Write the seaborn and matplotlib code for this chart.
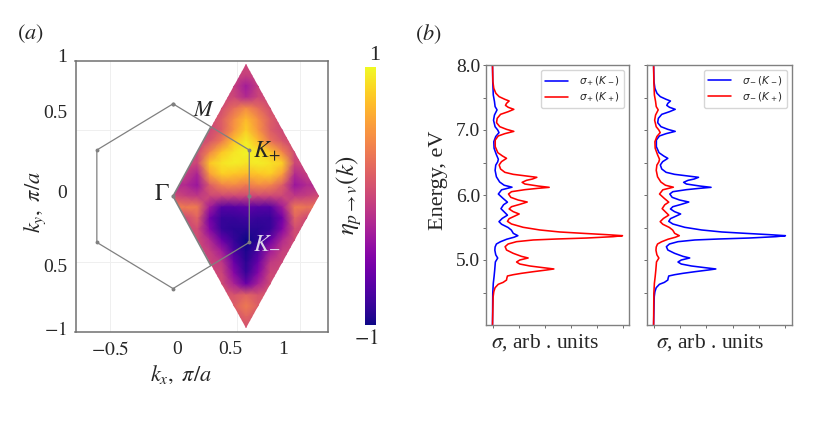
import numpy as np
import matplotlib
matplotlib.use("Agg")
import matplotlib.pyplot as plt
from matplotlib.patches import Polygon
import seaborn as sns

# eta on a grid over the rhombus, read by eye from the colours
# 13 columns over kx = 0 .. 1.15, 25 rows over ky = 1 .. -1
eta = [
    [0, 0, 0, 0, 0, 0, 0, 0, 0, 0, 0, 0, 0],
    [0, 0, 0, 0, 0, -0.03, -0.05, -0.03, 0, 0, 0, 0, 0],
    [0, 0, 0, 0, 0, -0.05, -0.3, -0.05, 0, 0, 0, 0, 0],
    [0, 0, 0, 0, 0, 0, -0.2, 0, 0, 0, 0, 0, 0],
    [0, 0, 0, 0, 0.05, 0.25, 0.45, 0.25, 0.05, 0, 0, 0, 0],
    [0, 0, 0, 0, 0.15, 0.45, 0.7, 0.45, 0.15, 0, 0, 0, 0],
    [0, 0, 0, 0, 0.15, 0.5, 0.8, 0.5, 0.15, 0, 0, 0, 0],
    [0, 0, 0, 0.1, 0.35, 0.75, 0.95, 0.7, 0.3, 0.1, 0, 0, 0],
    [0, 0, 0, 0.4, 0.75, 0.9, 0.97, 0.9, 0.75, 0.4, 0, 0, 0],
    [0, 0, 0, 0.75, 0.9, 0.95, 0.9, 0.95, 0.9, 0.8, 0, 0, 0],
    [-0.05, -0.05, -0.25, 0.55, 0.8, 0.75, 0.7, 0.75, 0.8, 0.55, -0.2, -0.05, -0.05],
    [-0.2, -0.2, -0.35, 0.15, 0.4, 0.45, 0.35, 0.45, 0.4, 0.15, -0.35, -0.2, -0.2],
    [0.05, -0.05, -0.1, 0, 0, 0, 0, 0, 0, 0, -0.1, -0.05, 0.05],
    [0.35, 0.35, 0.35, -0.3, -0.7, -0.7, -0.65, -0.7, -0.7, -0.3, 0.35, 0.3, 0.3],
    [0, 0, 0.2, -0.55, -0.85, -0.85, -0.8, -0.85, -0.85, -0.55, 0.2, 0, 0],
    [0, 0, 0.05, -0.45, -0.85, -0.9, -0.9, -0.9, -0.85, -0.45, 0.05, 0, 0],
    [0, 0, 0.05, -0.2, -0.6, -0.85, -1, -0.9, -0.6, -0.2, 0.05, 0, 0],
    [0, 0, 0, -0.05, -0.3, -0.75, -0.95, -0.75, -0.3, -0.05, 0, 0, 0],
    [0, 0, 0, 0, -0.1, -0.6, -0.9, -0.6, -0.1, 0, 0, 0, 0],
    [0, 0, 0, 0, 0, -0.45, -0.85, -0.45, 0, 0, 0, 0, 0],
    [0, 0, 0, 0, 0.05, -0.25, -0.6, -0.25, 0.05, 0, 0, 0, 0],
    [0, 0, 0, 0, 0.1, 0.1, 0.2, 0.1, 0.1, 0, 0, 0, 0],
    [0, 0, 0, 0, 0.15, 0.15, 0.35, 0.15, 0.15, 0, 0, 0, 0],
    [0, 0, 0, 0, 0.05, 0.05, 0.2, 0.05, 0.05, 0, 0, 0, 0],
    [0, 0, 0, 0, 0, 0, 0.05, 0, 0, 0, 0, 0, 0],
]
kx_grid = np.linspace(0, 1.15, 13)
ky_grid = np.linspace(1, -1, 25)
rhombus_x = [0, 0.575, 1.15, 0.575]
rhombus_y = [0, 1, 0, -1]
hex_x = [0, 0.6, 0.6, 0, -0.6, -0.6, 0]
hex_y = [0.7, 0.35, -0.35, -0.7, -0.35, 0.35, 0.7]

# the strong curve is sigma+(K+) and sigma-(K-), the weak one the other two
energy_strong = [4.0, 4.436, 4.513, 4.574, 4.626, 4.656, 4.692, 4.718, 4.754, 4.774, 4.795, 4.82, 4.846, 4.862,
                 4.882, 4.908, 4.938, 4.969, 5.0, 5.031, 5.056, 5.103, 5.154, 5.205, 5.246, 5.282, 5.308, 5.323,
                 5.338, 5.359, 5.374, 5.39, 5.41, 5.431, 5.462, 5.503, 5.554, 5.595, 5.636, 5.677, 5.708, 5.744,
                 5.785, 5.82, 5.856, 5.892, 5.923, 5.964, 6.015, 6.051, 6.082, 6.103, 6.118, 6.138, 6.169, 6.195,
                 6.226, 6.246, 6.272, 6.292, 6.318, 6.349, 6.4, 6.462, 6.513, 6.564, 6.6, 6.651, 6.744, 6.846,
                 6.908, 6.944, 6.979, 7.01, 7.051, 7.113, 7.179, 7.241, 7.282, 7.318, 7.349, 7.379, 7.41, 7.446,
                 7.472, 7.513, 7.564, 7.641, 7.744, 8.0]
sigma_strong = [0, 0.005, 0.01, 0.02, 0.044, 0.082, 0.108, 0.11, 0.115, 0.16, 0.223, 0.313, 0.415, 0.472,
                0.39, 0.287, 0.21, 0.185, 0.21, 0.274, 0.223, 0.159, 0.108, 0.097, 0.12, 0.185, 0.313, 0.492,
                0.723, 0.928, 1.0, 0.877, 0.697, 0.518, 0.364, 0.236, 0.146, 0.115, 0.128, 0.172, 0.205, 0.159,
                0.128, 0.146, 0.21, 0.267, 0.197, 0.141, 0.123, 0.146, 0.249, 0.351, 0.436, 0.351, 0.249, 0.228,
                0.262, 0.308, 0.341, 0.262, 0.159, 0.095, 0.062, 0.051, 0.069, 0.108, 0.077, 0.041, 0.021, 0.021,
                0.044, 0.095, 0.164, 0.108, 0.056, 0.031, 0.036, 0.062, 0.121, 0.164, 0.121, 0.1, 0.108, 0.128,
                0.095, 0.051, 0.026, 0.01, 0.003, 0]
energy_weak = [4.0, 4.487, 4.641, 4.744, 4.846, 4.92, 4.97, 5.03, 5.08, 5.15, 5.2, 5.246, 5.28, 5.32, 5.35, 5.374,
               5.41, 5.46, 5.5, 5.55, 5.59, 5.64, 5.69, 5.74, 5.79, 5.85, 5.89, 5.95, 6.015, 6.08, 6.12, 6.15,
               6.2, 6.28, 6.38, 6.46, 6.51, 6.55, 6.62, 6.72, 6.82, 6.9, 6.96, 7.0, 7.05, 7.15, 7.23, 7.31,
               7.36, 7.44, 7.54, 7.74, 8.0]
sigma_weak = [0, 0.002, 0.006, 0.012, 0.017, 0.02, 0.022, 0.04, 0.025, 0.018, 0.02, 0.03, 0.06, 0.11, 0.165, 0.195,
              0.16, 0.145, 0.12, 0.07, 0.05, 0.075, 0.115, 0.09, 0.065, 0.085, 0.115, 0.08, 0.045, 0.07, 0.15, 0.09,
              0.055, 0.03, 0.02, 0.025, 0.04, 0.045, 0.03, 0.012, 0.01, 0.025, 0.05, 0.04, 0.02, 0.008, 0.015, 0.035,
              0.02, 0.015, 0.006, 0.002, 0]

sns.set_style("white")
plt.rcParams["font.family"] = ["Liberation Serif", "DejaVu Serif"]
plt.rcParams["mathtext.fontset"] = "stix"
W, H = 817, 426
FS = 13.5
GREY = "#808080"


def px_axes(fig, left, top, right, bottom):
    # axes from pixel edges of the picture
    return fig.add_axes([left / W, 1 - bottom / H, (right - left) / W, (bottom - top) / H])


def label(fig, x, y, s, **kw):
    kw.setdefault("ha", "center")
    kw.setdefault("va", "center")
    kw.setdefault("fontsize", FS)
    fig.text(x / W, 1 - y / H, s, **kw)


fig = plt.figure(figsize=(W / 100, H / 100), dpi=100)

# (a) map
ax = px_axes(fig, 75.5, 60.7, 328, 331.7)
cmap = sns.color_palette("plasma", as_cmap=True)
mesh = ax.pcolormesh(kx_grid, ky_grid, np.array(eta), cmap=cmap, vmin=-1, vmax=1, shading="gouraud", zorder=2)
clip = Polygon(np.column_stack([rhombus_x, rhombus_y]), transform=ax.transData, fc="none", ec="none")
ax.add_patch(clip)
mesh.set_clip_path(clip)
ax.plot(hex_x, hex_y, color=GREY, lw=0.9, marker="o", ms=1.8, zorder=3)
ax.plot([0.297, 0, 0.297], [0.525, 0, -0.525], color=GREY, lw=1.2, zorder=3)
ax.plot([0, 0.6], [0, 0], ls="none", marker="o", ms=2, color=GREY, zorder=3)
ax.set_xlim(-0.768, 1.22)
ax.set_ylim(-1.027, 1.027)
ax.set_xticks([-0.5, 0.5, 1])
ax.set_yticks([-0.5, 0.5])
ax.grid(True, color="#efefef", lw=0.7)
ax.set_axisbelow(True)
ax.tick_params(length=0, labelbottom=False, labelleft=False)
for s in ax.spines.values():
    s.set_color("#707070")
    s.set_linewidth(1.1)

for x, t in [(110, r"$-0.5$"), (177, "0"), (230, "0.5"), (283, "1")]:
    label(fig, x, 350, t, fontsize=14)
for y, t in [(58, "1"), (114, "0.5"), (193, "0"), (268, "0.5"), (330, r"$-1$")]:
    label(fig, 67, y, t, ha="right", fontsize=14)
label(fig, 181, 375, r"$k_x,\ \pi/a$", fontsize=16)
label(fig, 35, 202, r"$k_y,\ \pi/a$", rotation=90, fontsize=16)
label(fig, 204, 112, r"$M$", fontsize=16)
label(fig, 267, 151, r"$K_{+}$", fontsize=17)
label(fig, 162, 194, r"$\Gamma$", fontsize=17)
label(fig, 267, 242, r"$K_{-}$", fontsize=17, color="#dcd3e8")
label(fig, 30, 34, r"$(a)$", fontsize=16)
label(fig, 428, 34, r"$(b)$", fontsize=16)

# colour bar
cax = px_axes(fig, 365, 67, 376, 325)
fig.colorbar(mesh, cax=cax)
cax.set_yticks([])
for s in cax.spines.values():
    s.set_visible(False)
label(fig, 375, 55, "1", fontsize=16)
label(fig, 366, 340, r"$-1$", fontsize=15)
label(fig, 349, 195, r"$\eta_{p\rightarrow v}(k)$", rotation=90, fontsize=18)

# (b) spectra
panels = [
    ((486, 65, 629, 325), [r"$\sigma_+(K_-)$", r"$\sigma_+(K_+)$"],
     (sigma_weak, energy_weak), (sigma_strong, energy_strong)),
    ((647, 65, 792, 325), [r"$\sigma_-(K_-)$", r"$\sigma_-(K_+)$"],
     (sigma_strong, energy_strong), (sigma_weak, energy_weak)),
]
for i, (box, names, blue, red) in enumerate(panels):
    a = px_axes(fig, *box)
    sns.lineplot(x=blue[0], y=blue[1], orient="y", sort=False, estimator=None, color="blue", lw=1.15, label=names[0], ax=a)
    sns.lineplot(x=red[0], y=red[1], orient="y", sort=False, estimator=None, color="red", lw=1.15, label=names[1], ax=a)
    a.set_ylim(4, 8)
    a.set_xlim(-0.05, 1.05)
    a.set_xticks([0, 0.2, 0.4, 0.6, 0.8, 1.0])
    a.set_yticks([4.5, 5, 5.5, 6, 6.5, 7, 7.5, 8])
    a.set_yticklabels(["", "5.0", "", "6.0", "", "7.0", "", "8.0"] if i == 0 else [""] * 8, fontsize=14)
    a.set_xticklabels([])
    a.tick_params(length=2, width=0.6, color="#555555", bottom=True, left=True, pad=2)
    for s in a.spines.values():
        s.set_color(GREY)
        s.set_linewidth(1)
    leg = a.legend(loc="upper right", fontsize=7.5, borderaxespad=0.5, labelspacing=0.25, handletextpad=1.0, handlelength=2.2)
    for t in leg.get_texts():
        t.set_math_fontfamily("dejavusans")

label(fig, 438, 180, "Energy, eV", rotation=90, fontsize=16)
label(fig, 545, 343, r"$\sigma$, arb . units", fontsize=15.5)
label(fig, 710, 343, r"$\sigma$, arb . units", fontsize=15.5)

fig.savefig("out.png", dpi=100)
